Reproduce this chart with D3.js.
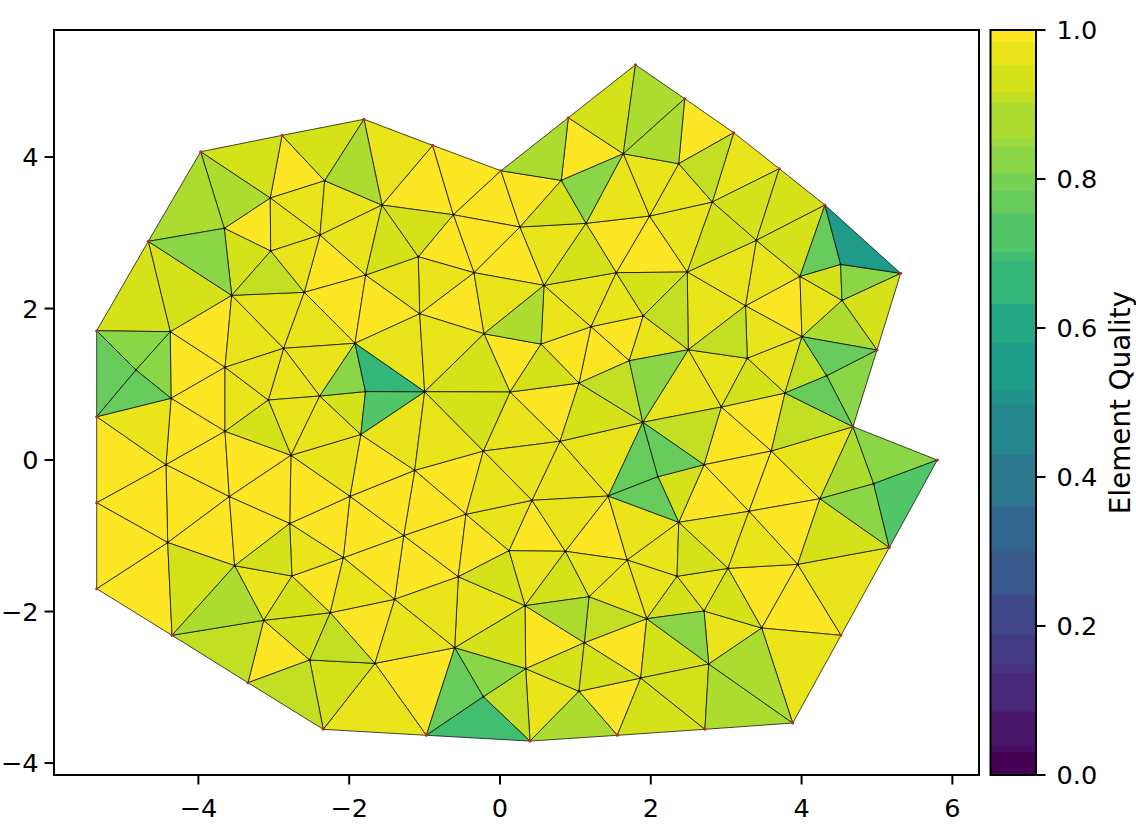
<!DOCTYPE html>
<html><head><meta charset="utf-8">
<script src="https://cdn.jsdelivr.net/npm/d3@7"></script>
<style>html,body{margin:0;padding:0;background:#fff}svg{display:block}text{font-family:"DejaVu Sans",sans-serif;fill:#000}</style>
</head><body><svg id="c" width="1136" height="839"></svg>
<script>
const nodeIds = ["A","B","C","D","E","F","G","H","I","J","K","L","M","N","O","P","Q","R","S","T","U","V","W","X","Y","Z",
"a","b","d","e","f","g","h","i","j","k","l","n","p","q","r","s","t","u","v","w","x","y","z",
"aa","bb","cc","dd","ee","ff","gg","hh","ii","jj","kk","ll","mm","nn","qq","rr","ss","tt","vv","ww","xx","yy","zz",
"ab","ac","ad","ae","af","ag","ah","ai","aj","ak","al","am","ao","ap","aq","ar","as","au","av","aw","ax","ay","az",
"ba","bb2","bc","bd","be","bf","bg","bh","bi","bj","bk","bl","bm","bn","bo","bp","bq","br","bs","bt","bv","bw","bx","by","bz",
"ca","cb","cc2","cd","ce","cf","cg","ch","ci","cj","ck"];
const nodeX = [-3.970,-2.891,-1.804,-4.665,-5.349,-3.047,-2.325,-3.657,-2.387,-3.041,-3.558,-2.596,-1.781,-1.565,-4.373,-1.923,-2.869,-0.893,0.013,0.906,1.797,0.813,1.635,-0.619,0.265,1.141,
1.983,-1.084,-0.345,0.584,1.542,2.450,3.100,3.704,4.310,5.314,2.370,2.816,3.399,2.484,3.979,4.518,4.536,3.256,4.005,5.000,2.497,3.280,1.901,
4.333,3.780,2.935,4.682,1.894,3.598,2.706,5.800,4.956,4.244,3.302,2.371,2.095,5.163,-1.065,-0.212,0.544,1.207,1.715,1.048,0.133,-0.999,-1.784,
-1.846,0.796,-0.221,-1.131,-1.989,1.436,0.424,-0.451,-4.828,-4.363,-5.349,-3.647,-2.391,-3.073,-3.647,-2.772,-4.430,-3.590,-2.789,-5.349,-4.407,-2.078,-5.349,
-3.519,-2.759,-2.251,-3.134,-4.350,-2.524,-1.658,-3.342,-2.344,-1.277,0.119,0.866,1.687,-0.553,-1.397,0.332,1.180,1.946,1.118,-0.601,0.341,1.866,1.048,-0.221,-0.977,
0.398,1.556,2.348,3.024,3.948,2.706,3.471,4.523,2.768,3.882,2.718];
const nodeY = [4.070,4.286,4.498,2.887,1.707,3.459,3.687,3.059,2.970,2.759,2.174,2.214,2.442,3.366,1.694,1.541,1.475,4.154,3.819,4.519,5.218,3.692,4.043,3.238,3.076,3.125,
3.221,2.684,2.473,2.306,2.473,4.770,4.321,3.846,3.366,2.465,3.912,3.406,2.900,2.482,2.425,2.583,2.108,2.036,1.628,1.452,1.456,1.343,1.905,
1.113,0.884,0.700,0.440,0.498,0.119,-0.062,0,-0.313,-0.511,-0.677,-0.822,-0.220,-1.155,1.931,1.667,1.531,1.760,1.311,1.016,0.898,0.902,0.904,
0.337,0.247,0.119,-0.136,-0.479,-0.475,-0.532,-0.716,1.188,0.815,0.572,1.224,0.845,0.792,0.379,0.062,-0.062,-0.484,-0.838,-0.564,-1.089,-1.290,-1.699,
-1.395,-1.531,-2.016,-2.116,-2.314,-2.640,-2.684,-2.940,-3.555,-0.999,-1.197,-1.205,-1.320,-1.541,-1.839,-1.923,-1.805,-2.095,-2.412,-2.478,-2.755,-2.878,-3.053,-3.125,-3.634,
-3.710,-3.634,-1.535,-1.430,-1.377,-1.993,-2.218,-2.314,-2.693,-3.472,-3.555];
const boundaryNodes = ["A","B","C","R","S","T","U","g","h","i","j","k","w","dd","hh","nn","ch","cj","ck","cb","ca","bz","bi","bh","be","az","aw","al","E","D"];

const qualityLevels = [0.99,0.965,0.935,0.91,0.88,0.83,0.77,0.73,0.697,0.66,0.55];
const trisYellow = ["B G F","H F J","I M L","K O am","L M P","N R X","R S X","S X Y","S Y V","T V W","g h l","r u v","a q f","Z a f","X Y d","Y d e","X b d","d qq rr","M qq P","tt z vv","tt vv ww","ss tt ww","rr ss xx","xx ww ac","bb cc ff","cc gg ff","gg ff kk","ff jj kk","jj kk ce","kk ll gg","cd ce cg","ce ch cg","bl ag bm","bk ah bl","ad ae ai","ae bj ai","bj ai bn","ai bk bn","bs br bw","bp bs bv","bx bw cb","bj bn bo","ay bj bo","bg bt bz","bc bo bg","bd bf bh","ax az be","ay bb2 bc","af ay bj","af bj ae","av ay af","ar af av","ab ae af","O am ak","ak am aq","ak aq as","aq as au","aq ar au","ar au av","as au ax","au ax ba","au av ba","al as aw","aw as ax","aw ax az"];
const trisGold = ["F G I","F I J","G N I","J I L","I N M","K am Q","K Q L","Q L P","C N R","h i n","p r u","p q u","a n q","l n a","W l a","W Z a","Y Z e","b d qq","M b qq","e d rr","P qq yy","qq rr yy","e ss tt","e f tt","f tt z","q x u","u y v","y v bb","x y cc","x cc ee","z vv x","xx ad ac","ac ee ag","ac ag ah","ad ac ah","ff dd jj","ag ll bm","ll bm cc2","ll kk cd","kk cd ce","ce nn ch","cc2 cd cf","bm cc2 br","bq bm br","bl bm bq","ah bl ag","ai ah bk","ad ah ai","bk bl bp","cf ci cg","cg cj ch","bv bx ca","bn bp bt","bo bn bt","bo bt bg","bg bz bi","ba bb2 bd","av bb2 ay","ay bc bo","ab af ar","ab yy ae","ad yy ae","Q P ao","Q ap ao","ao ap ar","ao ar ab","am ap aq","am Q ap","al ak as","r t v"];
const trisLemon = ["A B F","B C G","H J K","D K O","D O E","M N b","N X b","T W U","i n p","i j p","j p r","r s t","k t w","n p q","V Y Z","Z e f","f z q","y bb cc","xx ss ww","yy rr xx","yy xx ad","ww ee ac","jj nn ce","ll gg mm","ll cc2 cd","cd cg cf","cc2 cf br","bl bq bp","br bw ci","bs bv bx","bs bx bw","bw cb ck","bw ci ck","bp bt bv","bk bn bp","bf bg bi","bd bc bf","ax ba be","bb2 bc bd","ba av bb2","ao zz ab","ap aq ar"];
const trisLime = ["J L K","h l n","z q x","x u y","v bb aa","bb dd ff","ww vv ee","cc ee gg","bq br bs","bv by ca","bc bf bg","bf bh bi","be bd bh"];
const trisGrass = ["C G N","A F H","A H D","S V T","U W g","W g l","t v w","e rr ss","dd ii jj","bp bq bs","ci ck cj","ci cg cj","bx ca cb","be ba bd"];
const trisLeaf = ["D H K","k s t","V W Z","aa w dd","x vv ee","dd hh ii","ii jj nn","br cf ci","bt bv by","P zz ao","E O aj","O aj ak"];
const trisGreen = ["j r s","v aa w","aa bb dd","ee ag mm","ee mm gg","ag mm ll","bt by bz","E aj al","aj al ak"];
const trisEmerald = ["hh ii nn","zz yy ab"];
const trisJade = ["by bz ca"];
const trisSea = ["P zz yy"];
const trisTeal = ["j s k"];
const trisByLevel = [trisYellow,trisGold,trisLemon,trisLime,trisGrass,trisLeaf,trisGreen,trisEmerald,trisJade,trisSea,trisTeal];

const bandEdges = [1,.984,.953,.917,.902,.855,.843,.808,.785,.754,.703,.691,.633,.580,.517,.497,.430,.362,.30,.2416,.188,.148,.136,.085,.039,.032,0];
const xTicks = [-4,-2,0,2,4,6];
const yTicks = [-4,-2,0,2,4];
const cTicks = [0,0.2,0.4,0.6,0.8,1.0];
const colorLabel = "Element Quality";

const box = {l:54,r:979,t:30,b:775};
const cb = {l:990.5,r:1036,t:30,b:775};
const tickFont = 25.6, labelFont = 27.8;
const x = d3.scaleLinear().domain([-5.915,6.353]).range([box.l,box.r]);
const y = d3.scaleLinear().domain([-4.158,5.677]).range([box.b,box.t]);
const cy = d3.scaleLinear().domain([0,1]).range([cb.b,cb.t]);
const bands = d3.pairs(bandEdges).map(([hi,lo])=>({hi,lo,color:d3.interpolateViridis(hi===1?1:lo===0?0:(hi+lo)/2)}));
const colorOf = v => (bands.find(b=>v<=b.hi && v>=b.lo)||bands[0]).color;

const svg = d3.select("#c");
svg.append("rect").attr("width",1136).attr("height",839).attr("fill","#fff");
const idx = new Map(nodeIds.map((id,i)=>[id,i]));
const tris = [];
trisByLevel.forEach((list,k)=>list.forEach(t=>tris.push({n:t.split(" ").map(s=>idx.get(s)),q:qualityLevels[k]})));
const line = d3.line().x(i=>x(nodeX[i])).y(i=>y(nodeY[i])).curve(d3.curveLinearClosed);
svg.append("g").selectAll("path").data(tris).join("path")
  .attr("d",d=>line(d.n)).attr("fill",d=>colorOf(d.q)).attr("stroke","#000").attr("stroke-width",0.8)
  .attr("stroke-opacity",0.9).attr("stroke-linejoin","round");

const isB = new Set(boundaryNodes);
svg.append("g").selectAll("circle").data(nodeIds).join("circle")
  .attr("cx",(d,i)=>x(nodeX[i])).attr("cy",(d,i)=>y(nodeY[i])).attr("r",d=>isB.has(d)?1.5:1.2)
  .attr("fill",d=>isB.has(d)?"#d62020":"#111");

svg.append("rect").attr("x",box.l).attr("y",box.t).attr("width",box.r-box.l).attr("height",box.b-box.t)
  .attr("fill","none").attr("stroke","#000").attr("stroke-width",2);
const fmt = v => (v<0?"\u2212":"")+Math.abs(v);
const gx = svg.append("g");
xTicks.forEach(v=>{
  gx.append("line").attr("x1",x(v)).attr("x2",x(v)).attr("y1",box.b).attr("y2",box.b+9.5).attr("stroke","#000").attr("stroke-width",2);
  gx.append("text").attr("x",x(v)).attr("y",817).attr("text-anchor","middle").attr("font-size",tickFont).text(fmt(v));
});
const gy = svg.append("g");
yTicks.forEach(v=>{
  gy.append("line").attr("x1",box.l-9.5).attr("x2",box.l).attr("y1",y(v)).attr("y2",y(v)).attr("stroke","#000").attr("stroke-width",2);
  gy.append("text").attr("x",38.5).attr("y",y(v)+9.4).attr("text-anchor","end").attr("font-size",tickFont).text(fmt(v));
});
svg.append("g").selectAll("rect").data(bands).join("rect")
  .attr("x",cb.l).attr("width",cb.r-cb.l).attr("y",d=>cy(d.hi)).attr("height",d=>cy(d.lo)-cy(d.hi)+0.5).attr("fill",d=>d.color);
svg.append("rect").attr("x",cb.l).attr("y",cb.t).attr("width",cb.r-cb.l).attr("height",cb.b-cb.t)
  .attr("fill","none").attr("stroke","#000").attr("stroke-width",2);
const gc = svg.append("g");
cTicks.forEach(v=>{
  gc.append("line").attr("x1",cb.r).attr("x2",cb.r+9.5).attr("y1",cy(v)).attr("y2",cy(v)).attr("stroke","#000").attr("stroke-width",2);
  gc.append("text").attr("x",1056.5).attr("y",cy(v)+9.4).attr("font-size",tickFont).text(v.toFixed(1));
});
svg.append("text").attr("transform","translate(1129.5,402.5) rotate(-90)").attr("text-anchor","middle")
  .attr("font-size",labelFont).text(colorLabel);
</script></body></html>
